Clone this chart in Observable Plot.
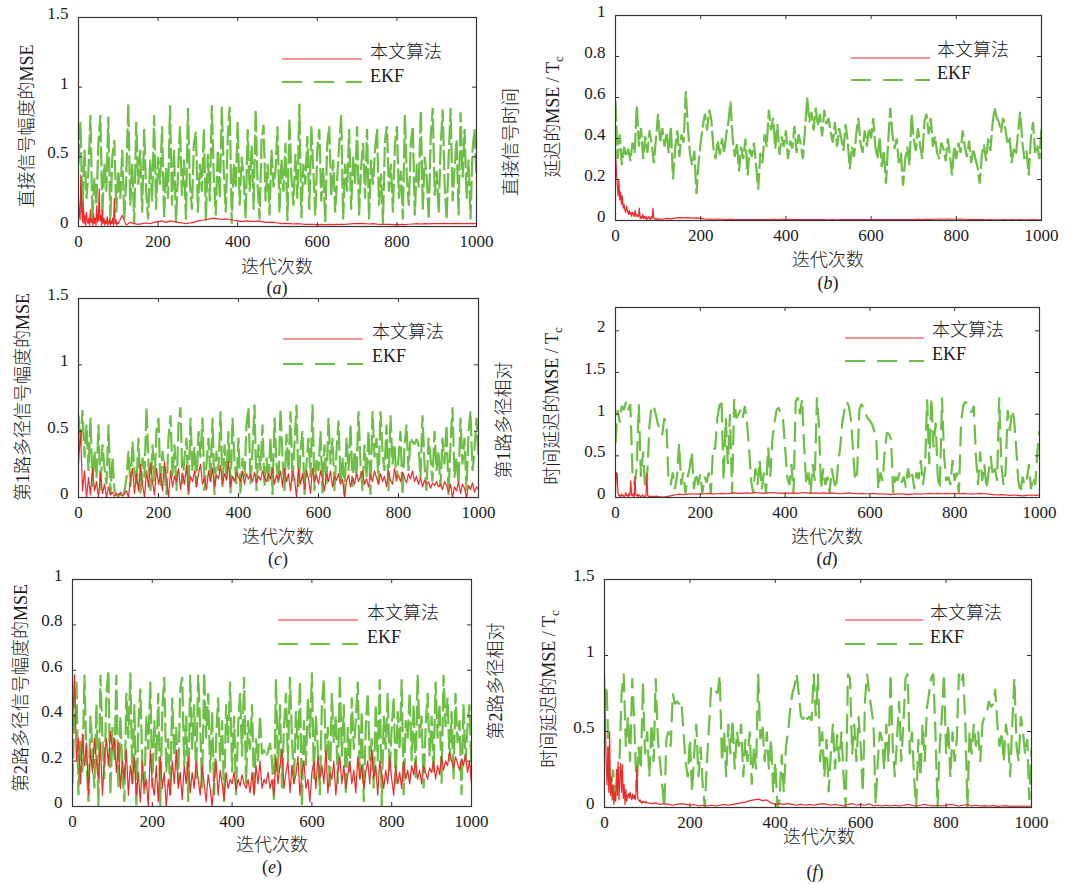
<!DOCTYPE html>
<html><head><meta charset="utf-8">
<script src="https://cdn.jsdelivr.net/npm/d3@7"></script>
<script src="https://cdn.jsdelivr.net/npm/@observablehq/plot@0.6"></script>
<style>
body{margin:0;background:#fff;}
#root{position:relative;width:1074px;height:884px;background:#fff;overflow:hidden;font-family:"Liberation Serif","Noto Sans CJK SC",serif;color:#1a1a1a;}
.abs{position:absolute;white-space:nowrap;line-height:1;font-size:18px;font-weight:300;}
.rot{transform:translate(-50%,-50%) rotate(-90deg);}
.ctr{transform:translate(-50%,-50%);}
.lft{transform:translate(0,-50%);}
sub{font-size:0.72em;vertical-align:-0.35em;}
</style></head><body><div id="root"></div>
<script>
// ---------------- data (iteration step 5 for EKF; red: early step 2 to t=100, late step 10) ----------------
const xTicks = [0, 200, 400, 600, 800, 1000];
const yTicksA = [0, 0.5, 1, 1.5];
const yTicksB = [0, 0.2, 0.4, 0.6, 0.8, 1];
const yTicksC = [0, 0.5, 1, 1.5];
const yTicksD = [0, 0.5, 1, 1.5, 2];
const yTicksE = [0, 0.2, 0.4, 0.6, 0.8, 1];
const yTicksF = [0, 0.5, 1, 1.5];
const legendNames = ["本文算法", "EKF"];
const xTitle = "迭代次数";

const ekfA = [0.45,0.75,0.10,0.55,0.20,0.40,0.80,0.05,0.35,0.15,
0.60,0.80,0.08,0.45,0.25,0.79,0.03,0.50,0.62,0.10,
0.40,0.20,0.55,0.05,0.35,0.88,0.15,0.45,0.02,0.75,
0.30,0.55,0.10,0.70,0.25,0.05,0.48,0.18,0.80,0.12,
0.50,0.30,0.72,0.06,0.42,0.20,0.87,0.15,0.55,0.03,
0.38,0.72,0.22,0.48,0.05,0.85,0.30,0.12,0.60,0.68,
0.10,0.45,0.25,0.70,0.04,0.52,0.18,0.87,0.35,0.08,
0.55,0.20,0.86,0.40,0.10,0.65,0.86,0.02,0.45,0.28,
0.75,0.15,0.50,0.35,0.06,0.70,0.25,0.58,0.12,0.84,
0.30,0.05,0.62,0.73,0.18,0.45,0.08,0.55,0.28,0.40,
0.72,0.10,0.48,0.25,0.60,0.04,0.78,0.35,0.15,0.52,
0.20,0.88,0.06,0.45,0.30,0.65,0.12,0.72,0.40,0.08,
0.55,0.70,0.18,0.42,0.03,0.60,0.72,0.22,0.48,0.10,
0.35,0.58,0.80,0.05,0.45,0.25,0.70,0.12,0.50,0.30,
0.72,0.08,0.42,0.60,0.20,0.70,0.05,0.48,0.30,0.55,
0.70,0.15,0.38,0.02,0.62,0.72,0.25,0.45,0.10,0.58,
0.72,0.20,0.40,0.05,0.80,0.35,0.15,0.60,0.72,0.08,
0.45,0.28,0.83,0.12,0.50,0.35,0.05,0.65,0.85,0.22,
0.40,0.10,0.58,0.84,0.30,0.05,0.50,0.85,0.18,0.42,
0.62,0.08,0.82,0.35,0.70,0.20,0.48,0.05,0.55,0.70,
0.35];
const redEarlyA = [0.20,0.10,0.05,0.37,0.12,0.03,0.18,0.02,0.08,0.01,
0.10,0.04,0.02,0.06,0.01,0.12,0.03,0.05,0.01,0.09,
0.02,0.06,0.01,0.15,0.03,0.05,0.27,0.04,0.08,0.01,
0.12,0.02,0.06,0.01,0.04,0.02,0.07,0.01,0.03,0.05,
0.01,0.04,0.02,0.06,0.01,0.20,0.02,0.05,0.01,0.03,0.02];
const redLateA = [0.02,0.08,0.01,0.03,0.02,0.015,0.02,0.025,0.02,0.03,
0.035,0.04,0.03,0.04,0.035,0.03,0.025,0.02,0.025,0.03,
0.04,0.045,0.05,0.055,0.06,0.055,0.05,0.055,0.05,0.045,
0.04,0.035,0.04,0.038,0.035,0.04,0.035,0.03,0.032,0.03,
0.025,0.02,0.022,0.02,0.018,0.02,0.018,0.015,0.016,0.015,
0.014,0.015,0.013,0.015,0.014,0.015,0.016,0.015,0.018,0.02,
0.02,0.022,0.02,0.018,0.02,0.017,0.015,0.016,0.015,0.014,
0.013,0.015,0.014,0.016,0.018,0.02,0.018,0.02,0.019,0.02,
0.021,0.02,0.022,0.02,0.021,0.022,0.02,0.021,0.02,0.022,
0.021];

const ekfB = [0.58,0.30,0.42,0.27,0.36,0.31,0.35,0.29,0.38,0.33,
0.56,0.36,0.45,0.30,0.41,0.33,0.44,0.37,0.28,0.40,
0.52,0.38,0.45,0.36,0.43,0.33,0.46,0.20,0.35,0.44,
0.31,0.42,0.38,0.63,0.45,0.32,0.27,0.34,0.13,0.28,
0.38,0.46,0.52,0.44,0.54,0.49,0.35,0.30,0.39,0.32,
0.40,0.33,0.42,0.48,0.58,0.40,0.31,0.38,0.24,0.36,
0.30,0.40,0.22,0.35,0.31,0.38,0.27,0.15,0.33,0.28,
0.42,0.36,0.54,0.44,0.50,0.35,0.47,0.32,0.41,0.36,
0.44,0.30,0.39,0.35,0.46,0.33,0.42,0.37,0.30,0.45,
0.60,0.48,0.53,0.44,0.55,0.46,0.52,0.41,0.54,0.47,
0.50,0.43,0.38,0.48,0.36,0.45,0.40,0.34,0.47,0.39,
0.25,0.36,0.31,0.42,0.50,0.38,0.33,0.44,0.36,0.45,
0.40,0.50,0.36,0.30,0.41,0.26,0.34,0.18,0.38,0.55,
0.42,0.35,0.40,0.28,0.33,0.17,0.30,0.36,0.27,0.52,
0.40,0.34,0.45,0.37,0.30,0.48,0.52,0.42,0.50,0.36,
0.41,0.33,0.30,0.38,0.35,0.29,0.40,0.32,0.22,0.36,
0.30,0.38,0.33,0.44,0.36,0.31,0.39,0.28,0.35,0.30,
0.26,0.18,0.32,0.37,0.29,0.40,0.34,0.47,0.55,0.50,
0.48,0.43,0.50,0.45,0.38,0.41,0.28,0.35,0.32,0.43,
0.53,0.38,0.30,0.34,0.22,0.40,0.48,0.33,0.37,0.30,
0.45];
const redEarlyB = [0.33,0.25,0.18,0.12,0.20,0.10,0.14,0.08,0.12,0.06,
0.08,0.05,0.04,0.07,0.05,0.03,0.05,0.03,0.04,0.02,
0.04,0.03,0.02,0.05,0.02,0.03,0.02,0.02,0.06,0.01,
0.02,0.01,0.03,0.01,0.02,0.01,0.02,0.005,0.01,0.02,
0.01,0.005,0.02,0.01,0.06,0.01,0.01,0.005,0.01,0.005,0.008];
const redLateB = [0.008,0.006,0.01,0.008,0.012,0.014,0.013,0.014,0.012,0.013,
0.01,0.008,0.007,0.006,0.007,0.006,0.005,0.006,0.005,0.005,
0.004,0.005,0.004,0.004,0.005,0.004,0.005,0.006,0.005,0.006,
0.005,0.006,0.005,0.004,0.005,0.004,0.004,0.005,0.004,0.004,
0.003,0.004,0.003,0.004,0.004,0.005,0.004,0.005,0.004,0.005,
0.005,0.004,0.005,0.004,0.004,0.005,0.004,0.005,0.005,0.004,
0.005,0.006,0.005,0.006,0.005,0.006,0.007,0.006,0.007,0.006,
0.006,0.007,0.006,0.005,0.005,0.004,0.004,0.003,0.004,0.003,
0.003,0.004,0.003,0.004,0.003,0.004,0.003,0.003,0.004,0.003,
0.003];

const ekfC = [0.62,0.40,0.66,0.30,0.55,0.20,0.60,0.08,0.35,0.15,
0.55,0.05,0.40,0.22,0.10,0.55,0.02,0.30,0.05,0.02,
0.01,0.03,0.00,0.05,0.15,0.35,0.08,0.42,0.20,0.10,
0.45,0.02,0.30,0.15,0.68,0.25,0.05,0.40,0.12,0.50,
0.60,0.08,0.35,0.20,0.02,0.45,0.62,0.15,0.40,0.05,
0.55,0.68,0.10,0.30,0.45,0.02,0.60,0.20,0.38,0.08,
0.50,0.30,0.60,0.05,0.25,0.45,0.12,0.60,0.02,0.35,
0.20,0.65,0.08,0.40,0.15,0.50,0.03,0.60,0.28,0.10,
0.45,0.02,0.30,0.15,0.55,0.68,0.10,0.35,0.70,0.05,
0.40,0.20,0.55,0.08,0.30,0.12,0.45,0.02,0.60,0.25,
0.10,0.67,0.30,0.05,0.48,0.20,0.65,0.12,0.40,0.70,
0.08,0.35,0.50,0.02,0.25,0.45,0.15,0.70,0.05,0.30,
0.20,0.50,0.03,0.40,0.10,0.60,0.25,0.45,0.05,0.35,
0.58,0.12,0.30,0.02,0.45,0.20,0.55,0.08,0.35,0.15,
0.65,0.25,0.05,0.40,0.15,0.50,0.02,0.65,0.30,0.45,
0.10,0.65,0.35,0.20,0.55,0.05,0.62,0.25,0.40,0.12,
0.30,0.50,0.02,0.38,0.55,0.20,0.45,0.42,0.40,0.44,
0.40,0.15,0.62,0.25,0.05,0.45,0.30,0.12,0.50,0.20,
0.35,0.08,0.45,0.25,0.55,0.02,0.40,0.68,0.15,0.30,
0.10,0.60,0.25,0.45,0.05,0.50,0.65,0.20,0.35,0.60,
0.30];
const redC = [0.25,0.50,0.05,0.20,0.00,0.15,0.02,0.22,0.05,0.12,
0.00,0.18,0.03,0.10,0.00,0.08,0.02,0.04,0.01,0.03,
0.02,0.04,0.01,0.03,0.05,0.00,0.15,0.22,0.03,0.18,
0.05,0.25,0.10,0.00,0.20,0.08,0.26,0.12,0.02,0.22,
0.10,0.18,0.05,0.27,0.14,0.00,0.20,0.08,0.16,0.12,
0.22,0.06,0.18,0.10,0.24,0.04,0.16,0.12,0.20,0.08,
0.18,0.25,0.10,0.15,0.06,0.20,0.12,0.22,0.08,0.17,
0.14,0.24,0.10,0.18,0.13,0.27,0.08,0.16,0.12,0.19,
0.15,0.12,0.20,0.10,0.18,0.14,0.17,0.12,0.19,0.11,
0.16,0.13,0.20,0.15,0.12,0.18,0.14,0.22,0.10,0.17,
0.13,0.20,0.08,0.22,0.12,0.18,0.05,0.20,0.14,0.00,
0.22,0.10,0.18,0.06,0.20,0.14,0.03,0.22,0.12,0.17,
0.10,0.20,0.14,0.05,0.18,0.12,0.20,0.08,0.16,0.13,
0.18,0.10,0.14,0.00,0.12,0.17,0.08,0.15,0.10,0.18,
0.12,0.16,0.20,0.10,0.14,0.08,0.17,0.12,0.20,0.15,
0.10,0.18,0.12,0.16,0.08,0.20,0.13,0.10,0.22,0.14,
0.17,0.12,0.19,0.15,0.11,0.18,0.14,0.20,0.12,0.16,
0.10,0.15,0.08,0.13,0.10,0.12,0.07,0.11,0.09,0.12,
0.08,0.10,0.06,0.12,0.09,0.04,0.10,0.00,0.08,0.05,
0.12,0.03,0.10,0.07,0.00,0.09,0.06,0.11,0.04,0.08,
0.06];

const ekfD = [0.65,1.05,0.90,1.10,1.05,1.15,1.05,1.12,0.30,0.15,
0.35,1.12,0.25,0.55,0.10,0.30,0.85,1.10,1.10,1.00,
0.88,0.80,0.75,0.95,0.90,0.20,0.15,0.30,0.10,0.25,
0.65,0.15,0.30,0.05,0.25,0.35,0.55,0.10,0.30,0.15,
0.28,0.05,0.25,0.18,0.30,0.05,0.60,0.58,0.95,1.10,
1.18,0.20,0.95,0.40,1.00,0.05,1.18,0.95,1.00,1.05,
0.95,1.10,0.90,0.60,0.20,0.05,0.35,0.15,0.45,0.10,
0.30,0.05,0.60,0.25,0.70,0.90,1.05,1.08,1.00,0.95,
0.60,0.25,0.15,0.40,0.05,1.15,1.20,1.00,1.18,0.60,
0.15,0.30,0.05,0.40,0.20,1.20,0.85,0.10,0.35,0.15,
0.25,0.05,0.35,0.20,0.10,0.40,0.60,0.90,1.05,1.15,
1.10,0.95,0.60,0.20,0.30,1.05,1.12,1.08,1.00,0.95,
0.92,0.88,0.80,0.72,0.10,0.30,0.20,0.55,0.78,0.76,
0.70,0.05,0.25,0.20,0.30,0.18,0.25,0.12,0.35,0.20,
0.28,0.10,0.30,0.22,0.45,0.15,0.35,1.18,0.40,1.20,
0.60,0.90,0.25,0.10,1.20,0.50,0.20,0.25,0.15,0.45,
0.20,0.30,0.05,0.90,1.10,1.15,1.12,1.05,1.02,1.10,
0.50,0.15,0.55,0.20,0.40,0.10,0.30,0.50,0.25,0.35,
0.20,1.20,0.40,0.15,0.30,1.05,0.80,1.05,0.95,0.60,
0.20,0.05,0.25,0.15,0.20,0.40,0.10,0.25,0.15,0.55,
0.80];
const redEarlyD = [0.05,0.30,0.28,0.05,0.02,0.03,0.01,0.04,0.02,0.03,
0.01,0.02,0.06,0.02,0.03,0.01,0.05,0.02,0.20,0.03,
0.02,0.05,0.01,0.25,0.03,0.02,0.04,0.01,0.03,0.02,
0.01,0.02,0.03,0.01,0.02,0.01,0.03,0.28,0.02,0.01,
0.02,0.01,0.015,0.01,0.02,0.01,0.015,0.01,0.02,0.01,0.01];
const redLateD = [0.01,0.005,0.01,0.02,0.03,0.04,0.035,0.04,0.045,0.04,
0.04,0.045,0.05,0.04,0.045,0.05,0.045,0.05,0.055,0.05,
0.05,0.055,0.05,0.06,0.055,0.05,0.055,0.06,0.055,0.05,
0.055,0.05,0.055,0.05,0.06,0.055,0.05,0.055,0.05,0.055,
0.05,0.055,0.05,0.045,0.05,0.055,0.05,0.045,0.05,0.045,
0.045,0.05,0.04,0.045,0.04,0.035,0.04,0.045,0.04,0.035,
0.04,0.045,0.04,0.045,0.05,0.045,0.05,0.045,0.05,0.045,
0.05,0.045,0.05,0.045,0.04,0.045,0.05,0.045,0.04,0.035,
0.03,0.035,0.03,0.025,0.03,0.025,0.02,0.025,0.03,0.025,
0.03];

const ekfE = [0.10,0.45,0.55,0.05,0.30,0.15,0.58,0.20,0.02,0.40,
0.25,0.08,0.45,0.00,0.58,0.30,0.12,0.50,0.60,0.05,
0.35,0.20,0.58,0.08,0.40,0.15,0.02,0.50,0.30,0.59,
0.10,0.45,0.00,0.35,0.52,0.18,0.05,0.40,0.25,0.55,
0.08,0.38,0.20,0.50,0.00,0.42,0.57,0.15,0.30,0.05,
0.48,0.22,0.35,0.10,0.52,0.57,0.18,0.40,0.02,0.58,
0.25,0.45,0.12,0.58,0.35,0.08,0.59,0.30,0.50,0.15,
0.42,0.05,0.30,0.48,0.20,0.38,0.02,0.45,0.28,0.55,
0.15,0.40,0.05,0.35,0.50,0.22,0.57,0.10,0.38,0.25,
0.45,0.05,0.30,0.20,0.40,0.23,0.25,0.22,0.24,0.28,
0.20,0.02,0.56,0.15,0.45,0.08,0.35,0.50,0.20,0.57,
0.30,0.10,0.42,0.25,0.55,0.00,0.38,0.18,0.48,0.30,
0.59,0.12,0.40,0.25,0.05,0.45,0.56,0.20,0.35,0.08,
0.50,0.28,0.40,0.10,0.58,0.22,0.45,0.05,0.35,0.15,
0.48,0.25,0.38,0.55,0.12,0.42,0.02,0.35,0.50,0.20,
0.30,0.08,0.45,0.20,0.56,0.00,0.40,0.25,0.50,0.15,
0.35,0.48,0.10,0.42,0.25,0.56,0.05,0.38,0.30,0.50,
0.20,0.45,0.12,0.58,0.30,0.40,0.08,0.35,0.50,0.22,
0.40,0.15,0.55,0.30,0.45,0.10,0.58,0.35,0.48,0.20,
0.42,0.12,0.50,0.28,0.38,0.05,0.45,0.20,0.35,0.45,
0.15];
const redE = [0.35,0.58,0.20,0.30,0.10,0.32,0.18,0.28,0.05,0.25,
0.15,0.30,0.20,0.12,0.28,0.05,0.22,0.30,0.18,0.33,
0.25,0.30,0.15,0.28,0.08,0.20,0.12,0.25,0.05,0.18,
0.10,0.22,0.05,0.15,0.02,0.20,0.08,0.12,0.00,0.25,
0.10,0.05,0.18,0.02,0.22,0.08,0.15,0.00,0.12,0.05,
0.20,0.10,0.25,0.08,0.15,0.03,0.18,0.10,0.22,0.06,
0.15,0.08,0.20,0.12,0.05,0.18,0.10,0.02,0.14,0.08,
0.00,0.12,0.20,0.05,0.16,0.10,0.03,0.15,0.08,0.12,
0.10,0.15,0.07,0.12,0.09,0.14,0.10,0.08,0.12,0.06,
0.15,0.05,0.18,0.10,0.20,0.08,0.12,0.10,0.15,0.08,
0.12,0.05,0.22,0.10,0.18,0.25,0.08,0.15,0.20,0.06,
0.18,0.10,0.14,0.22,0.05,0.15,0.20,0.08,0.12,0.02,
0.15,0.20,0.08,0.22,0.12,0.18,0.10,0.25,0.06,0.15,
0.12,0.20,0.05,0.15,0.22,0.10,0.18,0.08,0.14,0.20,
0.10,0.16,0.06,0.22,0.12,0.18,0.08,0.15,0.20,0.10,
0.25,0.12,0.18,0.05,0.20,0.14,0.08,0.16,0.10,0.22,
0.12,0.05,0.18,0.10,0.15,0.08,0.20,0.12,0.16,0.10,
0.18,0.14,0.20,0.12,0.16,0.10,0.18,0.15,0.12,0.17,
0.15,0.20,0.12,0.18,0.14,0.22,0.16,0.20,0.18,0.24,
0.20,0.17,0.22,0.19,0.16,0.21,0.18,0.23,0.15,0.20,
0.10];

const ekfF = [0.65,0.80,0.30,0.10,0.25,0.05,0.20,0.30,0.75,0.88,
0.40,0.60,0.30,0.85,0.55,0.10,0.40,0.25,0.82,0.35,
0.50,0.20,0.55,0.30,0.85,0.45,0.30,0.15,0.00,0.45,
0.50,0.40,0.75,0.68,0.70,0.68,0.70,0.50,0.30,0.20,
0.45,0.10,0.35,0.55,0.20,0.40,0.15,0.00,0.30,0.55,
0.80,0.78,0.77,0.75,0.87,0.30,0.50,0.20,0.55,0.35,
0.58,0.25,0.50,0.40,0.55,0.20,0.45,0.30,0.50,0.15,
0.40,0.25,0.88,0.45,0.55,0.30,0.50,0.25,0.45,0.10,
0.30,0.00,0.05,0.35,0.10,0.40,0.50,0.65,0.75,0.80,
0.88,0.75,0.60,0.58,0.62,0.58,0.60,0.57,0.88,0.60,
0.88,0.30,0.50,0.20,0.45,0.10,0.35,0.55,0.25,0.48,
0.30,0.50,0.20,0.00,0.88,0.85,0.35,0.55,0.30,0.60,
0.40,0.10,0.70,0.88,0.75,0.65,0.55,0.02,0.30,0.50,
0.45,0.25,0.55,0.30,0.88,0.40,0.20,0.45,0.70,0.30,
0.55,0.85,0.88,0.35,0.50,0.20,0.00,0.45,0.20,0.55,
0.30,0.65,0.75,0.85,0.88,0.50,0.00,0.40,0.60,0.88,
0.35,0.55,0.20,0.50,0.30,0.45,0.88,0.82,0.88,0.55,
0.00,0.50,0.35,0.55,0.40,0.50,0.30,0.55,0.60,0.62,
0.70,0.66,0.68,0.78,0.55,0.40,0.50,0.30,0.55,0.45,
0.20,0.55,0.85,0.40,0.30,0.60,0.50,0.35,0.45,0.05,
0.38];
const redEarlyF = [0.88,0.55,0.30,0.15,0.40,0.10,0.50,0.08,0.20,0.05,
0.15,0.02,0.10,0.04,0.25,0.08,0.30,0.05,0.20,0.29,
0.10,0.28,0.06,0.15,0.02,0.12,0.04,0.08,0.09,0.06,
0.10,0.07,0.05,0.09,0.06,0.08,0.05,0.10,0.27,0.06,
0.05,0.04,0.05,0.03,0.04,0.03,0.04,0.035,0.03,0.04,0.03];
const redLateF = [0.03,0.025,0.03,0.02,0.025,0.02,0.015,0.02,0.025,0.02,
0.015,0.02,0.01,0.015,0.01,0.015,0.01,0.015,0.02,0.015,
0.02,0.025,0.03,0.035,0.045,0.05,0.055,0.045,0.05,0.03,
0.02,0.025,0.02,0.025,0.02,0.015,0.02,0.015,0.02,0.015,
0.02,0.025,0.02,0.015,0.02,0.015,0.01,0.02,0.025,0.015,
0.02,0.015,0.025,0.01,0.015,0.01,0.015,0.01,0.015,0.01,
0.015,0.02,0.015,0.01,0.015,0.02,0.015,0.01,0.015,0.01,
0.015,0.02,0.015,0.01,0.015,0.02,0.01,0.015,0.01,0.012,
0.01,0.012,0.008,0.01,0.012,0.008,0.01,0.008,0.01,0.008,
0.01];

// ---------------- helpers ----------------
const GREEN = "#6cbf44", RED = "#ec2a2a", AXIS = "#333";
const FONT = "'Liberation Serif','Times New Roman',serif";
const seq = (arr, t0, step) => arr.map((v, i) => ({t: t0 + i * step, v}));
const redSeries = (early, late) => seq(early, 0, 2).concat(seq(late, 100, 10).slice(1));

const panels = [
  {L:78, T:17, W:398, H:209, ymax:1.5, yTicks:yTicksA, ekf:seq(ekfA,0,5), red:redSeries(redEarlyA, redLateA), dash:"20,4",
   xt:[277,267], cap:[277,288,"a"],
   ylab:[[27,126,"直接信号幅度的MSE"]],
   leg:{x1:282,x2:362,ry:59,gy:82,tx:370,ty1:52,ty2:76}},
  {L:615, T:15, W:426, H:205, ymax:1, yTicks:yTicksB, ekf:seq(ekfB,0,5), red:redSeries(redEarlyB, redLateB), dash:"20,4",
   xt:[828,260], cap:[828,283,"b"],
   ylab:[[511,142,"直接信号时间"],[555,117,"延迟的MSE / T<sub>c</sub>"]],
   leg:{x1:851,x2:930,ry:58,gy:80,tx:937,ty1:50,ty2:73}},
  {L:78, T:298, W:400, H:199, ymax:1.5, yTicks:yTicksC, ekf:seq(ekfC,0,5), red:seq(redC,0,5), dash:"20,5",
   xt:[278,537], cap:[278,559,"c"],
   ylab:[[23,397,"第1路多径信号幅度的MSE"]],
   leg:{x1:283,x2:363,ry:339,gy:364,tx:372,ty1:332,ty2:356}},
  {L:615, T:307, W:424, H:190, ymax:2.28, yTicks:yTicksD, ekf:seq(ekfD,0,5), red:redSeries(redEarlyD, redLateD), dash:"20,8",
   xt:[827,537], cap:[827,559,"d"],
   ylab:[[504,420,"第1路多径相对"],[554,406,"时间延迟的MSE / T<sub>c</sub>"]],
   leg:{x1:845,x2:924,ry:338,gy:361,tx:932,ty1:330,ty2:354}},
  {L:72, T:579, W:399, H:227, ymax:1, yTicks:yTicksE, ekf:seq(ekfE,0,5), red:seq(redE,0,5), dash:"20,5",
   xt:[272,845], cap:[272,867,"e"],
   ylab:[[21,688,"第2路多径信号幅度的MSE"]],
   leg:{x1:278,x2:358,ry:620,gy:644,tx:367,ty1:613,ty2:637}},
  {L:604, T:579, W:427, H:228, ymax:1.5, yTicks:yTicksF, ekf:seq(ekfF,0,5), red:redSeries(redEarlyF, redLateF), dash:"20,8",
   xt:[819,837], cap:[815,872,"f"],
   ylab:[[496,681,"第2路多径相对"],[551,689,"时间延迟的MSE / T<sub>c</sub>"]],
   leg:{x1:845,x2:923,ry:620,gy:644,tx:930,ty1:613,ty2:637}}
];

const root = document.getElementById("root");
function addText(html, x, y, cls) {
  const d = document.createElement("div");
  d.className = "abs " + cls;
  d.innerHTML = html;
  d.style.left = x + "px"; d.style.top = y + "px";
  root.appendChild(d);
}

const ml = 50, mr = 14, mt = 12, mb = 34, tk = 4;
for (const p of panels) {
  const fig = Plot.plot({
    width: p.W + ml + mr, height: p.H + mt + mb,
    marginLeft: ml, marginRight: mr, marginTop: mt, marginBottom: mb,
    x: {domain: [0, 1000]},
    y: {domain: [0, p.ymax]},
    style: {fontFamily: FONT, fontSize: "17px", color: "#1a1a1a", background: "transparent", overflow: "visible"},
    marks: [
      Plot.line(p.ekf, {x: "t", y: "v", stroke: GREEN, strokeWidth: 2.2, strokeDasharray: p.dash, strokeLinecap: "butt", strokeLinejoin: "miter", clip: true}),
      Plot.line(p.red, {x: "t", y: "v", stroke: RED, strokeWidth: 1.2, strokeLinecap: "butt", clip: true}),
      Plot.ruleX(xTicks, {x: d => d, y1: 0, y2: p.ymax * tk / p.H, stroke: AXIS}),
      Plot.ruleX(xTicks, {x: d => d, y1: p.ymax, y2: p.ymax * (1 - tk / p.H), stroke: AXIS}),
      Plot.ruleY(p.yTicks, {y: d => d, x1: 0, x2: 1000 * tk / p.W, stroke: AXIS}),
      Plot.ruleY(p.yTicks, {y: d => d, x1: 1000, x2: 1000 * (1 - tk / p.W), stroke: AXIS}),
      Plot.frame({stroke: AXIS, strokeWidth: 1.2}),
      Plot.axisX({ticks: xTicks, tickSize: 0, tickPadding: 8, tickFormat: d => String(d), label: null, fontSize: 17, fontFamily: FONT}),
      Plot.axisY({ticks: p.yTicks, tickSize: 0, tickPadding: 10, tickFormat: d => String(d), label: null, fontSize: 17, fontFamily: FONT, dy: -4})
    ]
  });
  fig.style.position = "absolute";
  fig.style.left = (p.L - ml) + "px";
  fig.style.top = (p.T - mt) + "px";
  root.appendChild(fig);

  addText(xTitle, p.xt[0], p.xt[1], "ctr");
  addText("(<i>" + p.cap[2] + "</i>)", p.cap[0], p.cap[1], "ctr");
  for (const [x, y, s] of p.ylab) addText(s, x, y, "rot");
  addText(legendNames[0], p.leg.tx, p.leg.ty1, "lft");
  addText(legendNames[1], p.leg.tx, p.leg.ty2, "lft");
}

// legend swatches
const ov = d3.select(root).append("svg")
  .attr("width", 1074).attr("height", 884)
  .style("position", "absolute").style("left", 0).style("top", 0).style("pointer-events", "none");
for (const p of panels) {
  ov.append("line").attr("x1", p.leg.x1).attr("x2", p.leg.x2).attr("y1", p.leg.ry).attr("y2", p.leg.ry)
    .attr("stroke", RED).attr("stroke-width", 1.2);
  ov.append("line").attr("x1", p.leg.x1).attr("x2", p.leg.x2).attr("y1", p.leg.gy).attr("y2", p.leg.gy)
    .attr("stroke", GREEN).attr("stroke-width", 2).attr("stroke-dasharray", "20,12");
}
</script></body></html>
